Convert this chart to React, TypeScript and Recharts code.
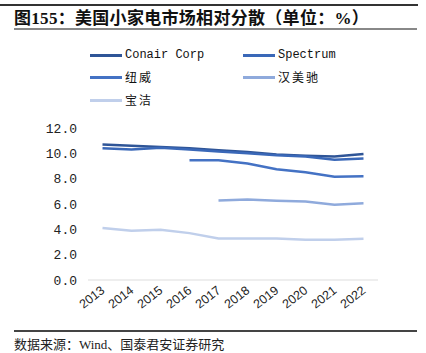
import { LineChart, Line, XAxis, YAxis } from "recharts";

const years = ["2013", "2014", "2015", "2016", "2017", "2018", "2019", "2020", "2021", "2022"];
const conair = [10.7, 10.6, 10.5, 10.4, 10.25, 10.1, 9.9, 9.8, 9.75, 9.95];
const spectrum = [10.4, 10.3, 10.45, 10.3, 10.15, 10.0, 9.85, 9.75, 9.5, 9.6];
const newell = [null, null, null, 9.45, 9.45, 9.2, 8.75, 8.5, 8.15, 8.2];
const hamilton = [null, null, null, null, 6.28, 6.35, 6.25, 6.2, 5.95, 6.05];
const pg = [4.1, 3.88, 3.97, 3.7, 3.28, 3.28, 3.27, 3.18, 3.18, 3.25];
const yTicks = [0, 2, 4, 6, 8, 10, 12];

const series = [
  { key: "conair", name: "Conair Corp", color: "#2F5597", values: conair },
  { key: "spectrum", name: "Spectrum", color: "#3A68B8", values: spectrum },
  { key: "newell", name: "纽威", color: "#4472C4", values: newell },
  { key: "hamilton", name: "汉美驰", color: "#8FAADC", values: hamilton },
  { key: "pg", name: "宝洁", color: "#C0CFEB", values: pg },
];

const data = years.map((year, i) => {
  const row: Record<string, any> = { year };
  series.forEach((s) => (row[s.key] = s.values[i]));
  return row;
});

const legendPos = [
  { left: 90, top: 47 },
  { left: 243, top: 47 },
  { left: 90, top: 69 },
  { left: 243, top: 69 },
  { left: 90, top: 92 },
];

// rotated year label, right end sits just under the category centre
const YearTick = (props: any) => {
  const { x, payload } = props;
  const ax = x + 3;
  const ay = 292;
  return (
    <g transform={`translate(${ax},${ay}) rotate(-38)`}>
      <text x={0} y={0} textAnchor="end" fontSize={12.5} fontFamily="Liberation Sans, Arial, sans-serif" fill="#222">
        {payload.value}
      </text>
    </g>
  );
};

export default function App() {
  return (
    <div
      style={{
        position: "absolute",
        left: 0,
        top: 0,
        width: 426,
        height: 353,
        background: "#fff",
        overflow: "hidden",
      }}
    >
      {/* top rule and title */}
      <div style={{ position: "absolute", left: 0, top: 4, width: 418, height: 2, background: "#333" }} />
      <div
        style={{
          position: "absolute",
          left: 14,
          top: 4,
          fontFamily: "Liberation Serif, Noto Sans CJK SC, serif",
          fontWeight: "bold",
          fontSize: 17,
          letterSpacing: 0.3,
          color: "#111",
          whiteSpace: "nowrap",
        }}
      >
        图155：美国小家电市场相对分散（单位：%）
      </div>
      <div style={{ position: "absolute", left: 14, top: 28, width: 403, height: 2, background: "#888" }} />

      {/* legend */}
      {series.map((s, i) => (
        <div
          key={s.key}
          style={{
            position: "absolute",
            left: legendPos[i].left,
            top: legendPos[i].top,
            display: "flex",
            alignItems: "center",
            height: 16,
            whiteSpace: "nowrap",
          }}
        >
          <div style={{ width: 32, height: 3, background: s.color, marginRight: 3 }} />
          <span
            style={{
              fontFamily: "Liberation Mono, Noto Sans CJK SC, monospace",
              fontSize: 12,
              letterSpacing: i < 2 ? 0 : 2,
              color: "#111",
            }}
          >
            {s.name}
          </span>
        </div>
      ))}

      <div style={{ position: "absolute", left: 0, top: 0 }}>
        <LineChart
          width={426}
          height={353}
          data={data}
          margin={{ top: 128, right: 48, bottom: 23, left: 28 }}
        >
          <XAxis
            dataKey="year"
            height={50}
            padding={{ left: 14.5, right: 14.5 }}
            axisLine={{ stroke: "#ddd", strokeWidth: 1 }}
            tickLine={false}
            interval={0}
            tick={<YearTick />}
          />
          <YAxis
            width={60}
            domain={[0, 12]}
            ticks={yTicks}
            axisLine={false}
            tickLine={false}
            tickMargin={5}
            tickFormatter={(v: number) => v.toFixed(1)}
            tick={{ fontSize: 13, fontFamily: "Liberation Mono, monospace", fill: "#222" }}
          />
          {series.map((s) => (
            <Line
              key={s.key}
              dataKey={s.key}
              stroke={s.color}
              strokeWidth={2.5}
              dot={false}
              type="linear"
              connectNulls={false}
              isAnimationActive={false}
            />
          ))}
        </LineChart>
      </div>

      {/* bottom rule and source */}
      <div style={{ position: "absolute", left: 14, top: 330, width: 403, height: 1.5, background: "#444" }} />
      <div
        style={{
          position: "absolute",
          left: 14,
          top: 337,
          lineHeight: "15px",
          fontFamily: "Liberation Serif, Noto Sans CJK SC, serif",
          fontSize: 13,
          color: "#222",
          whiteSpace: "nowrap",
        }}
      >
        数据来源：Wind、国泰君安证券研究
      </div>
    </div>
  );
}
